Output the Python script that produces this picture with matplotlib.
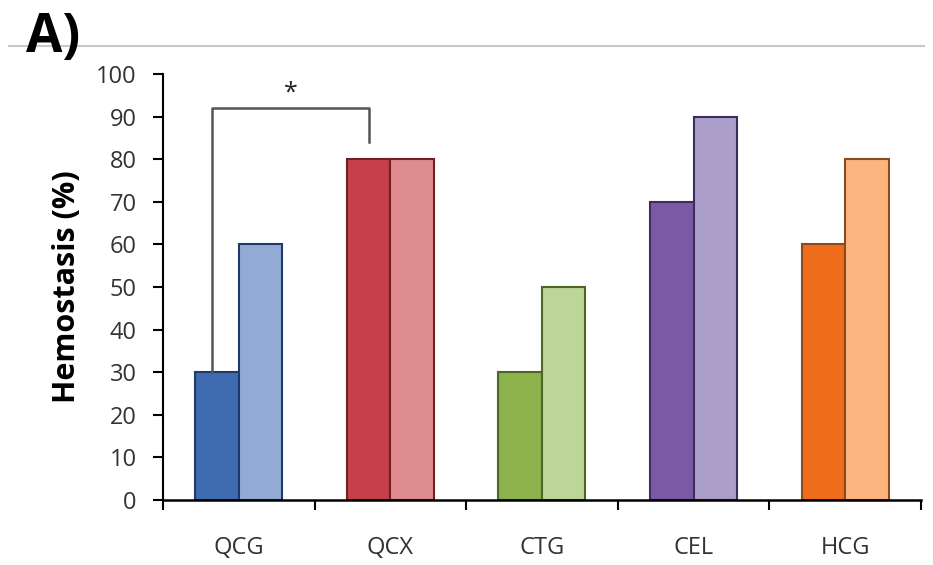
import matplotlib.pyplot as plt
import numpy as np

plt.rcParams['font.family'] = ['Open Sans', 'DejaVu Sans']

grupos = ['QCG', 'QCX', 'CTG', 'CEL', 'HCG']
hemostasia_a = [30, 80, 30, 70, 60]
hemostasia_b = [60, 80, 50, 90, 80]

cores_escuras = ['#3f6cb0', '#c6404a', '#8cb34c', '#7b5aa5', '#ee6c1a']
cores_claras = ['#93aad6', '#df8c8e', '#bdd697', '#ab9ecb', '#fcb57e']
bordas = ['#1f3a66', '#6e2024', '#4d6628', '#3e2c5c', '#8a4a20']

fig = plt.figure(figsize=(9.33, 5.65), dpi=100)
ax = fig.add_axes([0.1747, 0.115, 0.8123, 0.754])

x = np.arange(len(grupos))
largura = 0.287

for i in range(len(grupos)):
    ax.bar(x[i] - largura / 2, hemostasia_a[i], largura, color=cores_escuras[i],
           edgecolor=bordas[i], linewidth=1.5)
    ax.bar(x[i] + largura / 2, hemostasia_b[i], largura, color=cores_claras[i],
           edgecolor=bordas[i], linewidth=1.5)

# barra de significância entre QCG e QCX
y_sig = 92
x1 = x[0] - largura / 2 - 0.03
x2 = x[1] - largura / 2
ax.plot([x1, x1, x2, x2], [hemostasia_a[0], y_sig, y_sig, 84], color='#555555', lw=1.8)
ax.text((x1 + x2) / 2, y_sig + 0.5, '*', ha='center', va='bottom', fontsize=18, color='#222222')

ax.set_xlim(-0.5, len(grupos) - 0.5)
ax.set_ylim(0, 100)
ax.set_yticks(range(0, 101, 10))
ax.set_xticks(x)
ax.set_xticklabels(grupos)
ax.set_xticks(np.arange(-0.5, len(grupos)), minor=True)
ax.tick_params(axis='x', which='major', length=0, pad=26, labelsize=17, labelcolor='#333333')
ax.tick_params(axis='x', which='minor', length=7, width=1.5, direction='out')
ax.tick_params(axis='y', length=7, width=1.5, labelsize=17, labelcolor='#333333', pad=12)

for lado in ['top', 'right']:
    ax.spines[lado].set_visible(False)
ax.spines['left'].set_linewidth(1.5)
ax.spines['bottom'].set_linewidth(1.8)

ax.set_ylabel('Hemostasis (%)', fontsize=22, fontweight='bold', labelpad=10)

fig.text(0.028, 0.98, 'A)', fontsize=38, fontweight='bold', va='top', ha='left')
fig.add_artist(plt.Line2D([0.01, 0.99], [1 - 46 / 565, 1 - 46 / 565], color='#c8c8c8', lw=1.5))

fig.savefig('out.png', dpi=100)
